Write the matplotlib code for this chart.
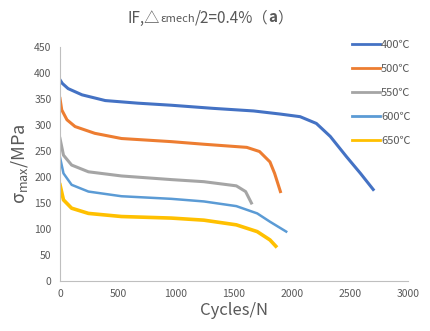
import matplotlib
matplotlib.use("Agg")
import matplotlib.pyplot as plt
from matplotlib.offsetbox import TextArea, HPacker, AnnotationBbox

plt.rcParams['font.family'] = ['Noto Sans CJK SC', 'DejaVu Sans']
plt.rcParams['mathtext.fontset'] = 'custom'
plt.rcParams['mathtext.rm'] = 'Noto Sans CJK SC'

# data
labels = ["400℃", "500℃", "550℃", "600℃", "650℃"]
colors = ["#4472C4", "#ED7D31", "#A5A5A5", "#5B9BD5", "#FFC000"]

n400 = [0, 20, 70, 190, 390, 670, 960, 1320, 1670, 1900, 2070, 2210, 2330, 2470, 2590, 2700]
s400 = [387, 380, 370, 358, 347, 342, 338, 332, 327, 321, 316, 303, 278, 239, 207, 176]

n500 = [0, 15, 60, 130, 300, 530, 960, 1240, 1610, 1720, 1810, 1850, 1900]
s500 = [351, 329, 310, 297, 284, 274, 268, 263, 257, 249, 229, 207, 172]

n550 = [0, 30, 100, 245, 530, 960, 1240, 1520, 1600, 1650]
s550 = [274, 242, 223, 210, 202, 195, 191, 183, 172, 150]

n600 = [0, 30, 100, 245, 530, 960, 1240, 1520, 1700, 1810, 1950]
s600 = [238, 207, 185, 172, 163, 158, 153, 144, 130, 114, 95]

n650 = [0, 30, 100, 245, 530, 960, 1240, 1520, 1700, 1810, 1860]
s650 = [185, 156, 140, 130, 124, 121, 117, 108, 95, 79, 67]

xs = [n400, n500, n550, n600, n650]
ys = [s400, s500, s550, s600, s650]
widths = [2.2, 2.2, 2.2, 1.8, 2.6]

fig = plt.figure(figsize=(4.31, 3.31), dpi=100)
ax = fig.add_axes([60/431, 1-281/331, 348/431, 234/331])

for x, y, c, w in zip(xs, ys, colors, widths):
    ax.plot(x, y, color=c, lw=w)

ax.set_xlim(0, 3000)
ax.set_ylim(0, 450)
ax.set_xticks(range(0, 3001, 500))
ax.set_yticks(range(0, 451, 50))
ax.tick_params(length=0, labelsize=7.5, colors="#595959", pad=6)
for s in ["top", "right"]:
    ax.spines[s].set_visible(False)
for s in ["left", "bottom"]:
    ax.spines[s].set_color("#BFBFBF")
    ax.spines[s].set_linewidth(0.8)

ax.set_xlabel("Cycles/N", fontsize=12, color="#595959", labelpad=2)
ax.set_ylabel(r"σ$_{\mathrm{max}}$/MPa", fontsize=13, color="#595959", labelpad=3)

# legend: plain handles of equal width
handles = [plt.Line2D([], [], color=c, lw=2) for c in colors]
fig.legend(handles, labels, loc="upper left", bbox_to_anchor=(352/431, 1-40/331),
           frameon=False, fontsize=8, handlelength=2.5, handletextpad=0.1,
           labelspacing=1.25, labelcolor="#595959", borderaxespad=0, borderpad=0)

# title with mixed sizes
tc = "#595959"
parts = [
    TextArea("IF,△", textprops=dict(fontsize=11, color=tc)),
    TextArea("εmech", textprops=dict(fontsize=8, color=tc)),
    TextArea("/2=0.4%（", textprops=dict(fontsize=11, color=tc)),
    TextArea("a", textprops=dict(fontsize=11, color=tc, fontweight="bold")),
    TextArea("）", textprops=dict(fontsize=11, color=tc)),
]
box = HPacker(children=parts, align="baseline", pad=0, sep=0)
ab = AnnotationBbox(box, (210/431, 1-18/331), xycoords="figure fraction",
                    frameon=False, box_alignment=(0.5, 0.5))
fig.add_artist(ab)

fig.savefig("out.png", dpi=100)
